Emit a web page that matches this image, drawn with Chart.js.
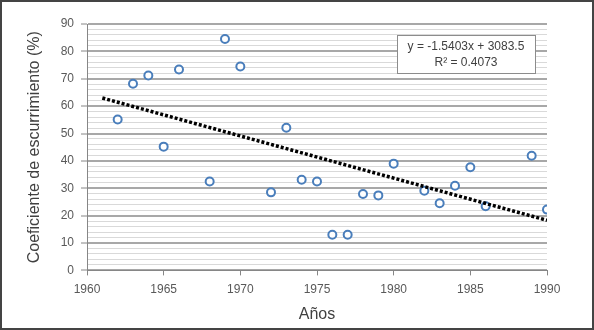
<!DOCTYPE html>
<html>
<head>
<meta charset="utf-8">
<script src="https://cdn.jsdelivr.net/npm/chart.js@4/dist/chart.umd.min.js"></script>
<style>
  html, body { margin: 0; padding: 0; background: #fff; }
  #wrap { position: relative; width: 594px; height: 330px; }
  #wrap canvas { position: absolute; left: 0; top: 0; }
  #frame { position: absolute; left: 0; top: 0; width: 594px; height: 330px;
           box-sizing: border-box; border: 2px solid #444; pointer-events: none; }
</style>
</head>
<body>
<div id="wrap">
  <canvas id="chart" width="594" height="330"></canvas>
  <div id="frame"></div>
</div>
<script>
// --- DATA ---
const years = [1962, 1963, 1964, 1965, 1966, 1968, 1969, 1970, 1972, 1973, 1974, 1975,
               1976, 1977, 1978, 1979, 1980, 1982, 1983, 1984, 1985, 1986, 1989, 1990];
const coef = [55.1, 68.2, 71.2, 45.2, 73.4, 32.5, 84.5, 74.5, 28.5, 52.1, 33.1, 32.5,
              13.0, 13.0, 27.9, 27.4, 39.0, 29.1, 24.5, 30.9, 37.7, 23.4, 41.9, 22.2];
// linea de tendencia (tal como la muestra la etiqueta)
const trendSlope = [-1.5403];
const trendIntercept = [3083.5];
const trendYears = [1961, 1990];
const trendLabel = ['y = -1.5403x + 3083.5', 'R\u00b2 = 0.4073'];

const FONT = '"Liberation Sans", Arial, sans-serif';

const points = years.map((x, i) => ({ x: x, y: coef[i] }));
const trend = trendYears.map(x => ({ x: x, y: trendSlope[0] * x + trendIntercept[0] }));

// caja de la ecuacion
const eqBox = {
  id: 'eqBox',
  afterDatasetsDraw(chart) {
    const ctx = chart.ctx;
    const a = chart.chartArea;
    const w = 138, h = 38;
    const x = a.right - 12 - w, y = a.top + 11;
    ctx.save();
    ctx.fillStyle = '#fff';
    ctx.fillRect(x, y, w, h);
    ctx.strokeStyle = '#8c8c8c';
    ctx.lineWidth = 1;
    ctx.strokeRect(x + 0.5, y + 0.5, w, h);
    ctx.fillStyle = '#404040';
    ctx.font = '12px ' + FONT;
    ctx.textAlign = 'center';
    ctx.textBaseline = 'middle';
    ctx.fillText(trendLabel[0], x + w / 2, y + 12);
    ctx.fillText(trendLabel[1], x + w / 2, y + 28);
    ctx.restore();
  }
};

new Chart(document.getElementById('chart').getContext('2d'), {
  type: 'scatter',
  data: {
    datasets: [
      {
        data: points,
        pointRadius: 4,
        pointBorderWidth: 2,
        pointBorderColor: '#4a7ebb',
        pointBackgroundColor: '#fff',
        order: 2
      },
      {
        type: 'line',
        data: trend,
        showLine: true,
        borderColor: '#000',
        borderWidth: 3.5,
        borderDash: [3, 2],
        pointRadius: 0,
        fill: false,
        order: 1
      }
    ]
  },
  options: {
    responsive: false,
    animation: false,
    layout: { padding: { left: 25, right: 47, top: 24, bottom: 6 } },
    plugins: {
      legend: { display: false },
      tooltip: { enabled: false }
    },
    scales: {
      x: {
        type: 'linear',
        min: 1960,
        max: 1990,
        ticks: {
          stepSize: 5,
          color: '#595959',
          font: { family: FONT, size: 12 },
          padding: 7,
          callback: v => String(v)
        },
        grid: { display: true, drawOnChartArea: false, color: '#868686', tickLength: 5, lineWidth: 1 },
        border: { color: '#868686', width: 1 },
        title: {
          display: true,
          text: 'Años',
          color: '#404040',
          font: { family: FONT, size: 16 },
          padding: { top: 1, bottom: 0 }
        }
      },
      // lineas menores cada 2 (se dibujan antes que las mayores)
      yMinor: {
        axis: 'y',
        position: 'left',
        z: -1,
        min: 0,
        max: 90,
        display: true,
        ticks: { display: false, stepSize: 2, autoSkip: false },
        grid: { display: true, color: '#d9d9d9', lineWidth: 1, drawTicks: false },
        border: { display: false },
        afterFit: s => { s.width = 0; }
      },
      y: {
        position: 'left',
        min: 0,
        max: 90,
        ticks: {
          stepSize: 10,
          color: '#595959',
          font: { family: FONT, size: 12 },
          padding: 7
        },
        grid: { display: true, color: '#a8a8a8', lineWidth: 2, tickColor: '#868686', tickWidth: 1, tickLength: 6 },
        border: { color: '#868686', width: 1 },
        title: {
          display: true,
          text: 'Coeficiente de escurrimiento (%)',
          color: '#404040',
          font: { family: FONT, size: 16 },
          padding: { top: 0, bottom: 4 }
        },
        afterFit: s => { s.width = 62; }
      }
    }
  },
  plugins: [eqBox]
});
</script>
</body>
</html>
